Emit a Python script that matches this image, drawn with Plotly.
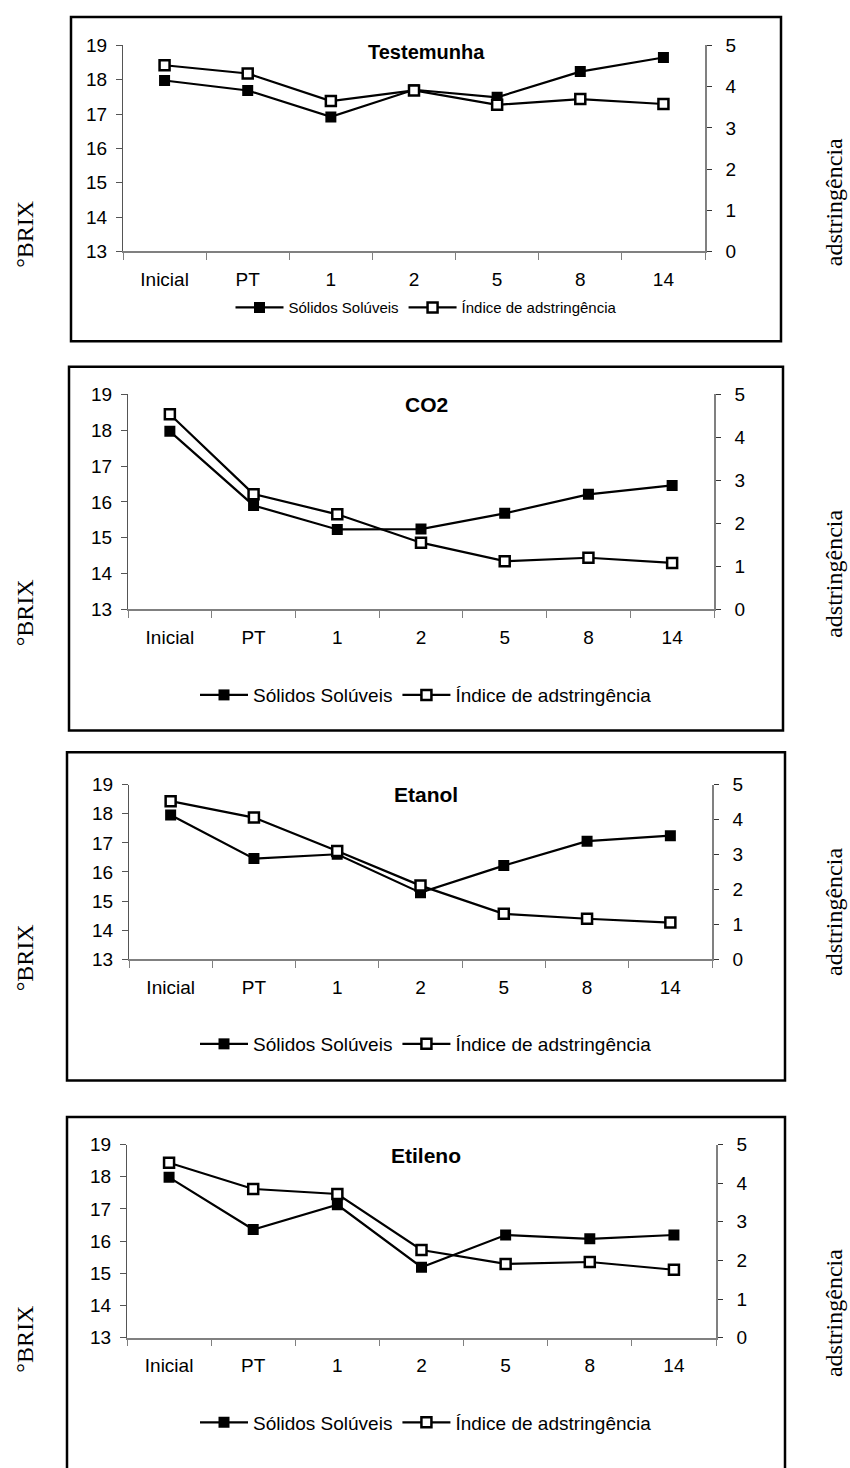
import plotly.graph_objects as go

# ---------------- data ----------------
categorias = ["Inicial", "PT", "1", "2", "5", "8", "14"]

testemunha_ss = [17.98, 17.69, 16.92, 17.71, 17.49, 18.24, 18.65]
testemunha_ia = [4.52, 4.32, 3.65, 3.91, 3.56, 3.70, 3.58]

co2_ss = [17.97, 15.90, 15.23, 15.24, 15.68, 16.21, 16.46]
co2_ia = [4.54, 2.68, 2.21, 1.55, 1.12, 1.20, 1.08]

etanol_ss = [17.96, 16.46, 16.61, 15.29, 16.22, 17.06, 17.25]
etanol_ia = [4.53, 4.06, 3.10, 2.11, 1.30, 1.16, 1.05]

etileno_ss = [17.98, 16.36, 17.13, 15.19, 16.19, 16.07, 16.19]
etileno_ia = [4.53, 3.85, 3.72, 2.27, 1.91, 1.96, 1.76]

titulos = ["Testemunha", "CO2", "Etanol", "Etileno"]
serie_ss = "Sólidos Solúveis"
serie_ia = "Índice de adstringência"
eixo_esq = "°BRIX"
eixo_dir = "adstringência"

# ---------------- layout (pixels) ----------------
W, H = 850, 1468


def px(x):
    return x / W


def py(y):
    return 1 - y / H


panels = [
    dict(ss=testemunha_ss, ia=testemunha_ia, plot=(123, 705, 36, 245), box=(71, 781, 7, 336),
         title_y=43, title_size=20, legend_y=302, legend_size=15, brix_y=228, adstr_y=195),
    dict(ss=co2_ss, ia=co2_ia, plot=(128, 714, 390, 608), box=(69, 783, 362, 731),
         title_y=400, title_size=21, legend_y=695, legend_size=19, brix_y=612, adstr_y=572),
    dict(ss=etanol_ss, ia=etanol_ia, plot=(129, 712, 786, 963), box=(67, 785, 753, 1086),
         title_y=796, title_size=21, legend_y=1049, legend_size=19, brix_y=962, adstr_y=915),
    dict(ss=etileno_ss, ia=etileno_ia, plot=(127, 716, 1151, 1347), box=(67, 785, 1123, 1520),
         title_y=1162, title_size=21, legend_y=1433, legend_size=19, brix_y=1349, adstr_y=1322),
]

AX = "#808080"
SANS = "Liberation Sans"
SERIF = "Liberation Serif"

fig = go.Figure()
layout = dict(
    width=W, height=H, margin=dict(l=0, r=0, t=0, b=0),
    paper_bgcolor="white", plot_bgcolor="white",
    showlegend=True, shapes=[], annotations=[],
    font=dict(family=SANS, color="black"),
)

for i, p in enumerate(panels):
    k = i + 1
    xa = f"x{k}"
    yl = 3 * i + 1
    yr = 3 * i + 2
    yc = 3 * i + 3
    leg = "legend" if i == 0 else f"legend{k}"
    x0, x1, y0, y1 = p["plot"]

    fig.add_trace(go.Scatter(
        x=categorias, y=p["ss"], xaxis=xa, yaxis=f"y{yl}", name=serie_ss,
        mode="lines+markers", legend=leg,
        line=dict(color="black", width=2.2),
        marker=dict(symbol="square", size=11, color="black"),
    ))
    fig.add_trace(go.Scatter(
        x=categorias, y=p["ia"], xaxis=xa, yaxis=f"y{yr}", name=serie_ia,
        mode="lines+markers", legend=leg,
        line=dict(color="black", width=2.2),
        marker=dict(symbol="square", size=10, color="white",
                    line=dict(color="black", width=2.5)),
    ))

    dom_x = [px(x0), px(x1)]
    dom_y = [py(y1), py(y0)]
    xkey = "xaxis" if k == 1 else f"xaxis{k}"
    layout[xkey] = dict(
        domain=dom_x, anchor=f"y{yl}", type="category", range=[-0.5, 6.5],
        showline=True, linecolor=AX, linewidth=1.5, showgrid=False, zeroline=False,
        ticks="outside", tickson="boundaries", ticklen=7, tickcolor=AX, tickwidth=1,
        tickfont=dict(size=19, family=SANS, color="black"), ticklabelstandoff=10,
    )
    ylkey = "yaxis" if yl == 1 else f"yaxis{yl}"
    layout[ylkey] = dict(
        domain=dom_y, anchor=xa, range=[13, 19], dtick=1,
        showline=True, linecolor="#555555", linewidth=1, showgrid=False, zeroline=False,
        ticks="outside", ticklen=6, tickcolor="#555555",
        tickfont=dict(size=19, family=SANS, color="black"), ticklabelstandoff=5,
    )
    layout[f"yaxis{yr}"] = dict(
        domain=dom_y, anchor=xa, overlaying=f"y{yl}", side="right", range=[0, 5], dtick=1,
        showline=True, linecolor=AX, linewidth=1.5, showgrid=False, zeroline=False,
        ticks="outside", ticklen=5, tickcolor="#333333",
        tickfont=dict(size=19, family=SANS, color="black"), ticklabelstandoff=10,
    )
    layout[f"yaxis{yc}"] = dict(
        domain=dom_y, anchor=xa, overlaying=f"y{yl}", side="right", range=[0, 5], dtick=1,
        showline=False, showgrid=False, zeroline=False, showticklabels=False,
        ticks="inside", ticklen=5, tickcolor="#333333",
    )

    bx0, bx1, by0, by1 = p["box"]
    cx = (bx0 + bx1) / 2
    layout[leg] = dict(
        orientation="h", x=px(cx), y=py(p["legend_y"]), xanchor="center", yanchor="middle",
        xref="paper", yref="paper",
        font=dict(size=p["legend_size"], family=SANS, color="black"),
        bgcolor="rgba(0,0,0,0)", itemwidth=48, tracegroupgap=0,
    )
    layout["shapes"].append(dict(
        type="rect", xref="paper", yref="paper",
        x0=px(bx0), x1=px(bx1), y0=py(by1), y1=py(by0),
        line=dict(color="black", width=2.5), fillcolor="rgba(0,0,0,0)", layer="above",
    ))
    layout["annotations"].append(dict(
        text=f"<b>{titulos[i]}</b>", xref="paper", yref="paper",
        x=px(cx), y=py(p["title_y"]), xanchor="center", yanchor="middle",
        showarrow=False, font=dict(size=p["title_size"], family=SANS, color="black"),
    ))
    layout["annotations"].append(dict(
        text=eixo_esq, xref="paper", yref="paper", textangle=-90,
        x=px(25), y=py(p["brix_y"]), xanchor="center", yanchor="middle",
        showarrow=False, font=dict(size=24, family=SERIF, color="black"),
    ))
    layout["annotations"].append(dict(
        text=eixo_dir, xref="paper", yref="paper", textangle=-90,
        x=px(834), y=py(p["adstr_y"]), xanchor="center", yanchor="middle",
        showarrow=False, font=dict(size=24, family=SERIF, color="black"),
    ))

fig.update_layout(**layout)
fig.write_html(
    "out.html",
    config={"displayModeBar": False},
    post_script="document.body.style.margin='0';document.body.style.overflow='hidden';",
)
